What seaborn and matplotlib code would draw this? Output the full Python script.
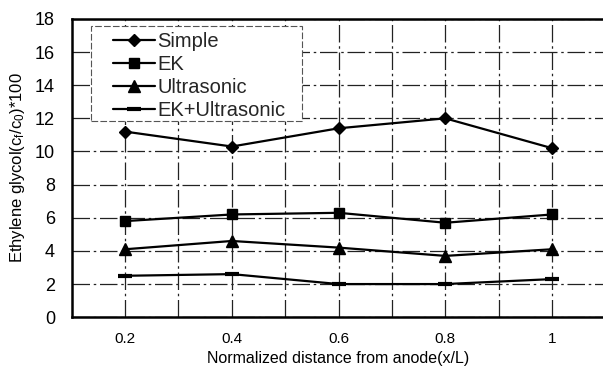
import matplotlib
matplotlib.use("Agg")
import matplotlib.pyplot as plt
from matplotlib.patches import Rectangle
import seaborn as sns
import pandas as pd

# Normalized distance from anode and measured ethylene glycol ratios
positions = [0.2, 0.4, 0.6, 0.8, 1.0]
tick_labels = ["0.2", "0.4", "0.6", "0.8", "1"]
simple = [11.2, 10.3, 11.4, 12.0, 10.2]
ek = [5.8, 6.2, 6.3, 5.7, 6.2]
ultrasonic = [4.1, 4.6, 4.2, 3.7, 4.1]
ek_ultrasonic = [2.5, 2.6, 2.0, 2.0, 2.3]

series = [
    ("Simple", simple, "D", 6.5, 1),
    ("EK", ek, "s", 7.5, 1),
    ("Ultrasonic", ultrasonic, "^", 8, 1),
    ("EK+Ultrasonic", ek_ultrasonic, "_", 10, 3),
]

sns.set_theme(style="white")
plt.rcParams["font.family"] = ["Liberation Sans", "DejaVu Sans"]
plt.rcParams["mathtext.fontset"] = "custom"
plt.rcParams["mathtext.rm"] = "Liberation Sans"
plt.rcParams["mathtext.it"] = "Liberation Sans"

fig = plt.figure(figsize=(6.03, 3.71), dpi=100)
ax = fig.add_axes([0.119, 0.145, 0.885, 0.804])

for name, vals, mk, ms, mew in series:
    df = pd.DataFrame({"x": positions, "y": vals})
    sns.lineplot(data=df, x="x", y="y", ax=ax, color="black", lw=1.6,
                 marker=mk, markersize=ms, markeredgewidth=mew,
                 markeredgecolor="black", markerfacecolor="black",
                 label=name)

ax.set_xlim(0.1, 1.1)
ax.set_ylim(0, 18)
ax.set_xticks(positions)
ax.set_xticklabels(tick_labels)
ax.set_xticks([0.3, 0.5, 0.7, 0.9], minor=True)
ax.set_yticks(range(0, 19, 2))

grid_style = dict(color="#222222", linewidth=0.9, linestyle=(0, (14, 3, 2, 3)))
ax.grid(True, which="major", axis="both", **grid_style)
ax.grid(True, which="minor", axis="x", **grid_style)
ax.set_axisbelow(True)

ax.tick_params(axis="y", which="both", length=0, pad=12, labelsize=13, colors="black")
ax.tick_params(axis="x", which="both", length=0, pad=11, labelsize=11, colors="black")

for side in ("left", "bottom", "top"):
    ax.spines[side].set_color("black")
    ax.spines[side].set_linewidth(1.8)
ax.spines["right"].set_visible(False)

ax.set_xlabel("Normalized distance from anode(x/L)", fontsize=11.5, labelpad=3, color="black")
ax.set_ylabel(r"Ethylene glycol(c$_f$/c$_0$)*100", fontsize=12, labelpad=6, color="black")

# legend entries without their own frame; a separate box encloses them
leg = ax.legend(loc="upper left", bbox_to_anchor=(0.077, 0.955), borderaxespad=0,
                fontsize=14.5, handlelength=2.1, handletextpad=0.1,
                labelspacing=0.2, borderpad=0, frameon=False)
leg.set_zorder(5)
box = Rectangle((0.036, 0.658), 0.395, 0.318, transform=ax.transAxes,
                facecolor="white", edgecolor="#555555", linewidth=0.8,
                linestyle=(0, (6, 2)), zorder=4)
ax.add_patch(box)

fig.savefig("out.png", dpi=100)
